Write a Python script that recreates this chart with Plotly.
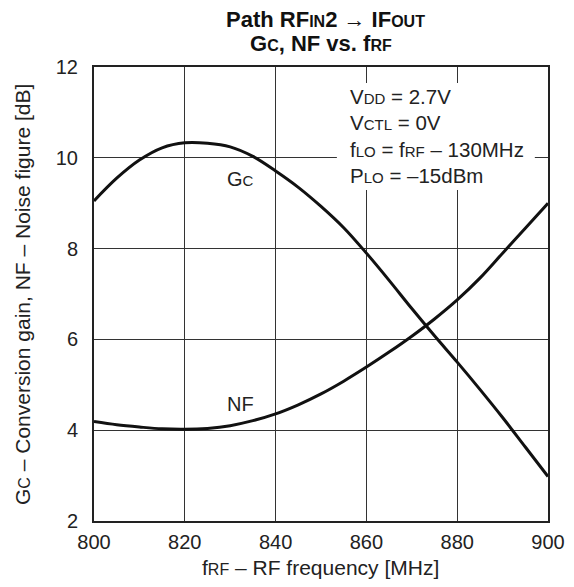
import plotly.graph_objects as go

freq = [800, 805, 810, 815, 820, 825, 830, 835, 840, 845, 850, 855, 860, 865, 870, 875, 880, 885, 890, 895, 900]
gc = [9.05, 9.55, 9.95, 10.22, 10.33, 10.32, 10.24, 10.03, 9.71, 9.35, 8.93, 8.46, 7.9, 7.3, 6.68, 6.08, 5.5, 4.9, 4.28, 3.63, 2.98]
nf = [4.19, 4.12, 4.07, 4.03, 4.02, 4.04, 4.1, 4.21, 4.36, 4.56, 4.8, 5.08, 5.39, 5.72, 6.07, 6.45, 6.87, 7.35, 7.9, 8.45, 9.0]

x_ticks = [800, 820, 840, 860, 880, 900]
y_ticks = [2, 4, 6, 8, 10, 12]

conditions = [
    ("V", "DD", " = 2.7V"),
    ("V", "CTL", " = 0V"),
    ("f", "LO", " = f<span style='font-size:15px'>RF</span> – 130MHz"),
    ("P", "LO", " = –15dBm"),
]
cond_y = [11.35, 10.77, 10.18, 9.6]

FONT = "Liberation Sans, Arial, Helvetica, sans-serif"
def sc(t, s=15):
    return f"<span style='font-size:{s}px'>{t}</span>"

fig = go.Figure()
fig.add_trace(go.Scatter(x=freq, y=gc, mode="lines", line=dict(color="#111", width=3, shape="spline"), showlegend=False))
fig.add_trace(go.Scatter(x=freq, y=nf, mode="lines", line=dict(color="#111", width=3, shape="spline"), showlegend=False))

fig.add_annotation(x=832.2, y=9.53, text="G" + sc("C"), showarrow=False, font=dict(size=20, color="#222", family=FONT))
fig.add_annotation(x=832.2, y=4.58, text="NF", showarrow=False, font=dict(size=20, color="#222", family=FONT))

# white box behind condition text
fig.add_shape(type="rect", x0=853.5, x1=897.1, y0=9.29, y1=11.65, fillcolor="white", line=dict(width=0), layer="above")
for (a, s, b), yy in zip(conditions, cond_y):
    fig.add_annotation(x=855.9, y=yy, xanchor="left", yanchor="middle", text=a + sc(s) + b, showarrow=False,
                       font=dict(size=20.5, color="#222", family=FONT))

# title lines
fig.add_annotation(xref="paper", yref="paper", x=0.51, y=1.1057, xanchor="center", yanchor="middle",
                   text="<b>Path RF" + sc("IN", 16) + "2 → IF" + sc("OUT", 16) + "</b>",
                   showarrow=False, font=dict(size=22, color="#111", family=FONT))
fig.add_annotation(xref="paper", yref="paper", x=0.5, y=1.0528, xanchor="center", yanchor="middle",
                   text="<b>G" + sc("C", 16) + ", NF vs. f" + sc("RF", 16) + "</b>",
                   showarrow=False, font=dict(size=22, color="#111", family=FONT))

# axis titles
fig.add_annotation(xref="paper", yref="paper", x=0.498, y=-0.1035, xanchor="center", yanchor="middle",
                   text="f" + sc("RF", 16) + " – RF frequency [MHz]",
                   showarrow=False, font=dict(size=21, color="#222", family=FONT))
fig.add_annotation(xref="paper", yref="paper", x=-0.1586, y=0.5, xanchor="center", yanchor="middle", textangle=-90,
                   text="G" + sc("C", 16) + " – Conversion gain, NF – Noise figure [dB]",
                   showarrow=False, font=dict(size=21, color="#222", family=FONT))

fig.update_layout(
    width=558, height=571,
    margin=dict(l=86, r=18, t=59, b=58),
    paper_bgcolor="white", plot_bgcolor="white",
    font=dict(family=FONT, size=20, color="#222"),
    xaxis=dict(range=[800, 900], tickvals=x_ticks, showgrid=True, gridcolor="#333", gridwidth=1,
               showline=True, linecolor="#222", linewidth=2, mirror=True, ticks="", zeroline=False,
               tickfont=dict(size=20), ticklabelstandoff=2, automargin=False),
    yaxis=dict(range=[2, 12], tickvals=y_ticks, showgrid=True, gridcolor="#333", gridwidth=1,
               showline=True, linecolor="#222", linewidth=2, mirror=True, ticks="", zeroline=False,
               tickfont=dict(size=20), ticklabelstandoff=10, automargin=False),
)

fig.write_html("out.html")
